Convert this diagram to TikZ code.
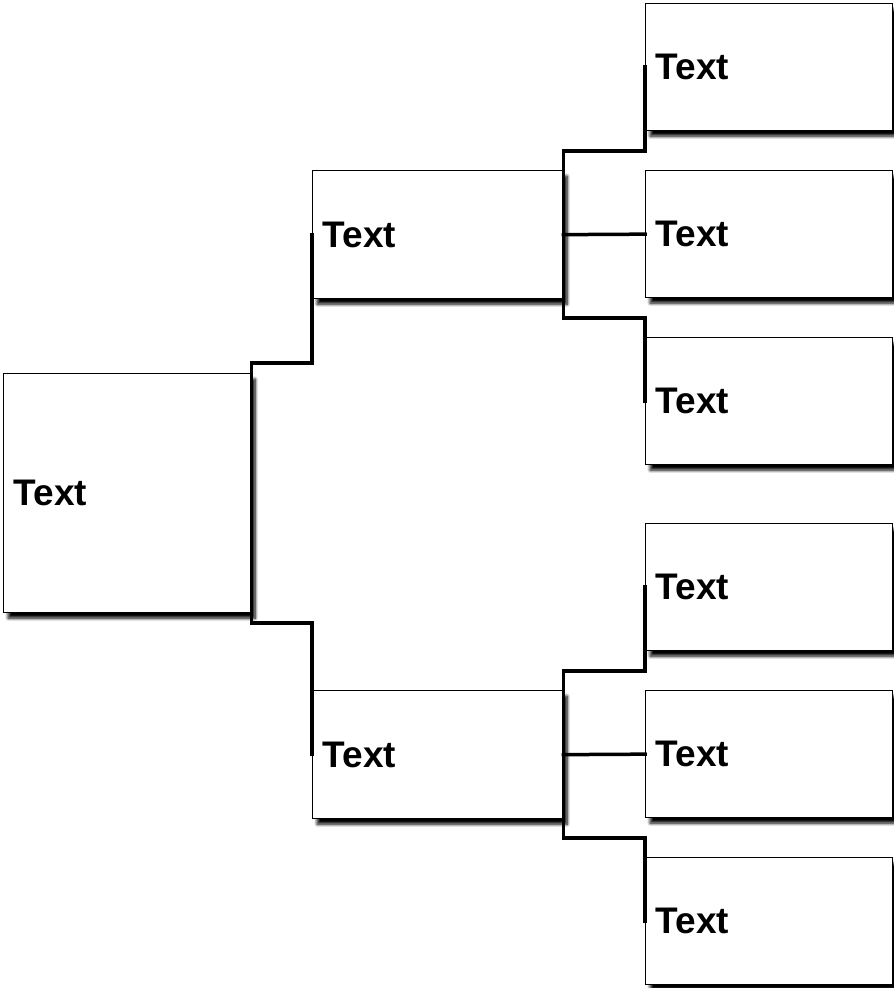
\documentclass[tikz,border=0pt]{standalone}
\usepackage{fontspec}
\setmainfont{Liberation Sans}
\usetikzlibrary{shadows.blur}
\begin{document}
\begin{tikzpicture}[x=1pt,y=-1pt,
  box/.style={draw, line width=1.3pt, fill=white, anchor=north west,
    blur shadow={shadow xshift=4.5pt, shadow yshift=-5.5pt, shadow blur radius=3pt, shadow blur steps=10, shadow opacity=100},
    font=\fontsize{37}{44}\selectfont\bfseries, align=left, inner xsep=10pt, inner ysep=0pt},
  wbox/.style={box, minimum width=250pt, minimum height=128pt, text width=230pt},
  rbox/.style={box, minimum width=247pt, minimum height=127pt, text width=227pt},
  link/.style={draw, line width=3.5pt, line join=miter, line cap=rect}]
\useasboundingbox (0,0) rectangle (894,988);
\node[box, minimum width=247pt, minimum height=239pt, text width=227pt] (root) at (3,373) {Text\\[-8pt]};
\node[wbox] (midA) at (312,170) {Text};
\node[wbox] (midB) at (312,690) {Text};
\node[rbox] (r1) at (645,3) {Text};
\node[rbox] (r2) at (645,170) {Text};
\node[rbox] (r3) at (645,337) {Text};
\node[rbox] (r4) at (645,523) {Text};
\node[rbox] (r5) at (645,690) {Text};
\node[rbox] (r6) at (645,857) {Text};
\coordinate (eA) at (312,363);
\coordinate (eB) at (312,623);
\coordinate (e1) at (645,151);
\coordinate (e3) at (645,318);
\coordinate (e4) at (645,671);
\coordinate (e6) at (645,838);
\path[link] (root.east) |- (eA) -- (midA.west);
\path[link] (root.east) |- (eB) -- (midB.west);
\path[link] (midA.east) |- (e1) -- (r1.west);
\path[link] (midA.east) -- (r2.west);
\path[link] (midA.east) |- (e3) -- (r3.west);
\path[link] (midB.east) |- (e4) -- (r4.west);
\path[link] (midB.east) -- (r5.west);
\path[link] (midB.east) |- (e6) -- (r6.west);
\end{tikzpicture}
\end{document}
